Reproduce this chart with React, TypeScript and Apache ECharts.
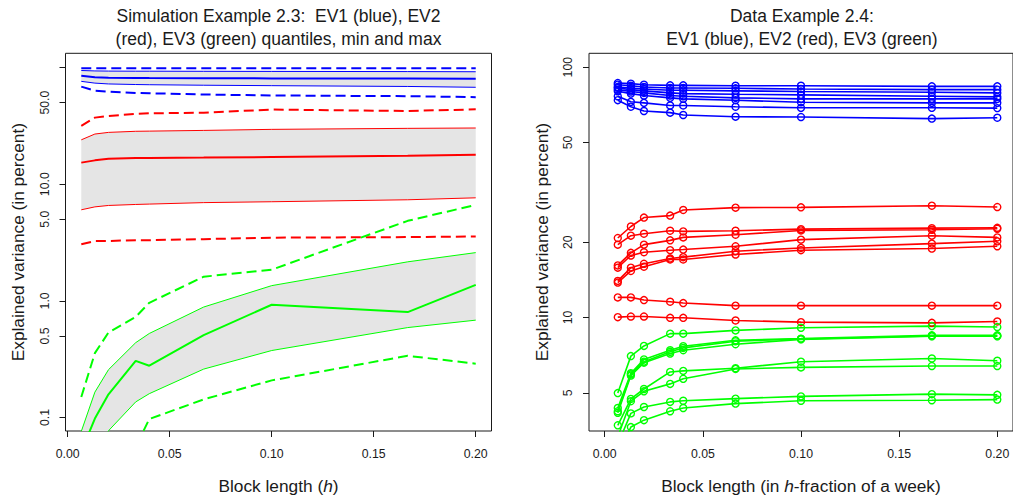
import React, { useEffect, useRef } from "react";
import * as echarts from "echarts";

// ---------- shared x positions (block length h) ----------
const X = [1 / 150, 1 / 75, 1 / 50, 1 / 30, 1 / 25, 1 / 15, 1 / 10, 1 / 6, 1 / 5];
const X_TICKS = [0, 0.05, 0.1, 0.15, 0.2];

// ---------- left panel: simulation quantiles ----------
const blueMax = [98.8, 98.8, 98.8, 98.8, 98.7, 98.7, 98.7, 98.6, 98.6];
const blueUpper = [94.3, 93.5, 93.2, 93.0, 93.0, 92.8, 92.6, 92.3, 92.0];
const blueMedian = [85.0, 82.5, 81.8, 81.5, 81.3, 81.0, 80.7, 80.5, 80.2];
const blueLower = [76.1, 73.5, 72.3, 71.5, 71.2, 70.5, 69.9, 68.8, 67.7];
const blueMin = [68.6, 63.2, 62.2, 60.6, 60.2, 58.7, 57.6, 56.8, 55.7];

const redMax = [31.6, 37.2, 38.4, 40.0, 40.5, 41.0, 43.6, 42.4, 43.8];
const redUpper = [24.0, 26.9, 27.8, 28.4, 28.5, 28.9, 29.5, 30.1, 30.3];
const redMedian = [15.3, 16.0, 16.5, 16.8, 16.8, 16.9, 17.1, 17.5, 17.9];
const redLower = [6.03, 6.39, 6.57, 6.7, 6.75, 6.95, 7.07, 7.35, 7.64];
const redMin = [3.05, 3.26, 3.26, 3.31, 3.31, 3.38, 3.48, 3.52, 3.56];

const greenMax = [0.15, 0.356, 0.536, 0.728, 0.962, 1.61, 1.85, 4.85, 6.64];
const greenUpper = [0.076, 0.165, 0.257, 0.438, 0.525, 0.885, 1.35, 2.16, 2.59];
const greenMedian = [0.051, 0.098, 0.158, 0.306, 0.278, 0.509, 0.925, 0.801, 1.37];
const greenLower = [0.025, 0.045, 0.077, 0.136, 0.16, 0.26, 0.375, 0.59, 0.683];
const greenMin = [0.015, 0.025, 0.035, 0.056, 0.097, 0.143, 0.208, 0.338, 0.289];

const LEFT_Y_TICKS = [0.1, 0.5, 1, 5, 10, 50, 100];
const LEFT_Y_LABELS = ["0.1", "0.5", "1.0", "5.0", "10.0", "50.0"];

// ---------- right panel: data example, one line per dataset ----------
const ev1Lines = [
  [86.4, 85.9, 85.1, 84.6, 84.6, 84.3, 84.3, 83.8, 83.8],
  [85.1, 84.3, 83.3, 82.6, 82.6, 82.3, 81.8, 81.3, 81.3],
  [83.3, 82.6, 81.8, 80.8, 80.8, 80.4, 79.9, 79.4, 78.9],
  [82.6, 81.3, 80.4, 78.9, 78.4, 77.9, 77.5, 76.5, 76.1],
  [81.3, 79.9, 78.9, 77.0, 76.5, 75.4, 74.7, 74.7, 74.7],
  [80.1, 78.4, 77.0, 75.4, 74.7, 73.8, 72.4, 72.0, 72.0],
  [76.5, 72.7, 72.0, 70.3, 70.3, 69.5, 68.8, 68.8, 68.6],
  [73.8, 69.5, 66.8, 65.8, 64.4, 63.4, 63.2, 62.3, 62.8],
];
const ev2Lines = [
  [20.77, 23.09, 25.07, 25.53, 26.88, 27.46, 27.54, 27.96, 27.62],
  [19.54, 21.22, 21.61, 22.21, 22.07, 22.21, 22.54, 22.75, 22.82],
  [16.14, 18.12, 19.54, 20.33, 20.89, 21.41, 22.27, 22.41, 22.61],
  [15.81, 17.68, 18.23, 18.57, 18.68, 19.25, 20.46, 21.22, 20.89],
  [14.0, 15.81, 16.39, 17.21, 17.42, 18.4, 18.96, 19.73, 20.15],
  [13.79, 15.34, 15.95, 17.05, 17.05, 17.85, 18.57, 18.85, 19.25],
  [12.03, 12.03, 11.74, 11.56, 11.42, 11.15, 11.15, 11.15, 11.15],
  [10.03, 10.09, 10.09, 9.97, 9.97, 9.73, 9.58, 9.52, 9.64],
];
const ev3Lines = [
  [4.99, 7.01, 7.7, 8.62, 8.62, 8.88, 9.1, 9.24, 9.16],
  [4.35, 5.99, 6.8, 7.4, 7.68, 8.11, 8.23, 8.49, 8.49],
  [4.22, 5.93, 6.66, 7.29, 7.56, 8.04, 8.21, 8.44, 8.44],
  [4.16, 5.86, 6.6, 7.18, 7.4, 7.82, 8.18, 8.41, 8.41],
  [3.71, 4.73, 5.18, 6.06, 6.12, 6.27, 6.66, 6.86, 6.72],
  [3.34, 4.63, 5.07, 5.43, 5.69, 6.23, 6.32, 6.4, 6.4],
  [3.12, 4.14, 4.39, 4.6, 4.65, 4.74, 4.84, 4.94, 4.91],
  [2.85, 3.65, 3.89, 4.22, 4.35, 4.53, 4.65, 4.67, 4.7],
];
const RIGHT_Y_TICKS = [5, 10, 20, 50, 100];
const RIGHT_Y_LABELS = ["5", "10", "20", "50", "100"];

// ---------- styling ----------
const FONT = '"Liberation Sans", Arial, Helvetica, sans-serif';
const BLUE = "#0000ff";
const RED = "#ff0000";
const GREEN = "#00ff00";
const BAND = "#e5e5e5";
const INK = "#1a1a1a";
const DASH = [10, 5];
const TITLE_SIZE = 17.5;
const LAB_SIZE = 17.3;
const TICK_SIZE = 12.3;

const lg = (v: number) => Math.log10(v);

function labelFor(ticks: number[], labels: string[]) {
  return (val: number) => {
    const v = Math.pow(10, val);
    for (let i = 0; i < ticks.length; i++) {
      if (Math.abs(ticks[i] - v) / ticks[i] < 1e-6) return labels[i] ?? "";
    }
    return "";
  };
}

function band(upper: number[], lower: number[]) {
  return {
    type: "custom",
    xAxisIndex: 0,
    yAxisIndex: 0,
    clip: true,
    silent: true,
    z: 1,
    data: [[X[0], lg(upper[0])]],
    renderItem: (_params: any, api: any) => {
      const top = X.map((x, i) => api.coord([x, lg(upper[i])]));
      const bottom = X.map((x, i) => api.coord([x, lg(lower[i])])).reverse();
      return {
        type: "polygon",
        shape: { points: top.concat(bottom) },
        style: { fill: BAND, stroke: null },
      };
    },
  };
}

function leftLine(values: number[], color: string, width: number, dashed: boolean) {
  return {
    type: "line",
    xAxisIndex: 0,
    yAxisIndex: 0,
    data: X.map((x, i) => [x, lg(values[i])]),
    symbol: "none",
    showSymbol: false,
    silent: true,
    clip: true,
    z: 3,
    lineStyle: { color, width, type: dashed ? DASH : "solid", cap: "butt" },
  };
}

function rightLine(values: number[], color: string) {
  return {
    type: "line",
    xAxisIndex: 1,
    yAxisIndex: 1,
    data: X.map((x, i) => [x, lg(values[i])]),
    symbol: "circle",
    symbolSize: 7,
    showSymbol: true,
    silent: true,
    clip: true,
    z: 3,
    itemStyle: { color: "rgba(0,0,0,0)", borderColor: color, borderWidth: 1.4 },
    lineStyle: { color, width: 1.6 },
  };
}

function xAxis(gridIndex: number, min: number, max: number, name: string) {
  return {
    type: "value",
    gridIndex,
    min,
    max,
    axisLine: { show: false, onZero: false },
    splitLine: { show: false },
    axisTick: { show: true, length: 6, lineStyle: { color: INK }, customValues: X_TICKS },
    axisLabel: {
      customValues: X_TICKS,
      formatter: (v: number) => v.toFixed(2),
      fontSize: TICK_SIZE,
      fontFamily: FONT,
      color: INK,
      margin: 17,
    },
    name,
    nameLocation: "middle",
    nameGap: 46,
    nameTextStyle: {
      fontSize: LAB_SIZE,
      fontFamily: FONT,
      color: INK,
      rich: {
        n: { fontSize: LAB_SIZE, fontFamily: FONT, color: INK },
        i: { fontSize: LAB_SIZE, fontFamily: FONT, color: INK, fontStyle: "italic" },
      },
    },
  };
}

function yAxis(gridIndex: number, min: number, max: number, ticks: number[], labels: string[]) {
  const tickVals = ticks.map(lg);
  const labelVals = ticks.slice(0, labels.length).map(lg);
  return {
    type: "value",
    gridIndex,
    min,
    max,
    axisLine: { show: false, onZero: false },
    splitLine: { show: false },
    axisTick: { show: true, length: 6, lineStyle: { color: INK }, customValues: tickVals },
    axisLabel: {
      customValues: labelVals,
      formatter: labelFor(ticks, labels),
      rotate: 90,
      fontSize: TICK_SIZE,
      fontFamily: FONT,
      color: INK,
      margin: 15,
    },
    name: "Explained variance (in percent)",
    nameLocation: "middle",
    nameGap: 39,
    nameTextStyle: { fontSize: LAB_SIZE, fontFamily: FONT, color: INK },
  };
}

export default function App() {
  const ref = useRef<HTMLDivElement>(null);

  useEffect(() => {
    if (!ref.current) return;
    const chart = echarts.init(ref.current, undefined, { renderer: "svg" });

    const series: any[] = [
      band(blueUpper, blueLower),
      band(redUpper, redLower),
      band(greenUpper, greenLower),
      leftLine(blueMax, BLUE, 2, true),
      leftLine(blueUpper, BLUE, 1, false),
      leftLine(blueMedian, BLUE, 2, false),
      leftLine(blueLower, BLUE, 1, false),
      leftLine(blueMin, BLUE, 2, true),
      leftLine(redMax, RED, 2, true),
      leftLine(redUpper, RED, 1, false),
      leftLine(redMedian, RED, 2, false),
      leftLine(redLower, RED, 1, false),
      leftLine(redMin, RED, 2, true),
      leftLine(greenMax, GREEN, 2, true),
      leftLine(greenUpper, GREEN, 1, false),
      leftLine(greenMedian, GREEN, 2, false),
      leftLine(greenLower, GREEN, 1, false),
      leftLine(greenMin, GREEN, 2, true),
      ...ev1Lines.map((l) => rightLine(l, BLUE)),
      ...ev2Lines.map((l) => rightLine(l, RED)),
      ...ev3Lines.map((l) => rightLine(l, GREEN)),
    ];

    chart.setOption({
      animation: false,
      backgroundColor: "#ffffff",
      textStyle: { fontFamily: FONT },
      grid: [
        { left: 65.5, top: 53.3, width: 426, height: 381.7, show: true, borderColor: INK, borderWidth: 1, backgroundColor: "transparent", containLabel: false },
        { left: 589, top: 53.3, width: 425.8, height: 381.7, show: true, borderColor: INK, borderWidth: 1, backgroundColor: "transparent", containLabel: false },
      ],
      xAxis: [
        xAxis(0, -0.00107, 0.20773, "{n|Block length (}{i|h}{n|)}"),
        xAxis(1, -0.008, 0.208, "{n|Block length (in }{i|h}{n|-fraction of a week)}"),
      ],
      yAxis: [
        yAxis(0, lg(0.0766), lg(132.4), LEFT_Y_TICKS, LEFT_Y_LABELS),
        yAxis(1, 0.5466, 2.0553, RIGHT_Y_TICKS, RIGHT_Y_LABELS),
      ],
      graphic: [
        {
          type: "text",
          x: 278.5,
          y: 5,
          silent: true,
          style: {
            text: "Simulation Example 2.3:  EV1 (blue), EV2\n(red), EV3 (green) quantiles, min and max",
            align: "center",
            verticalAlign: "top",
            fontSize: TITLE_SIZE,
            lineHeight: 22.5,
            fontFamily: FONT,
            fill: INK,
          },
        },
        {
          type: "text",
          x: 801.9,
          y: 5,
          silent: true,
          style: {
            text: "Data Example 2.4:\nEV1 (blue), EV2 (red), EV3 (green)",
            align: "center",
            verticalAlign: "top",
            fontSize: TITLE_SIZE,
            lineHeight: 22.5,
            fontFamily: FONT,
            fill: INK,
          },
        },
      ],
      series,
    });

    return () => chart.dispose();
  }, []);

  return (
    <div
      ref={ref}
      style={{ position: "fixed", left: 0, top: 0, width: 1013, height: 499, background: "#fff" }}
    />
  );
}
